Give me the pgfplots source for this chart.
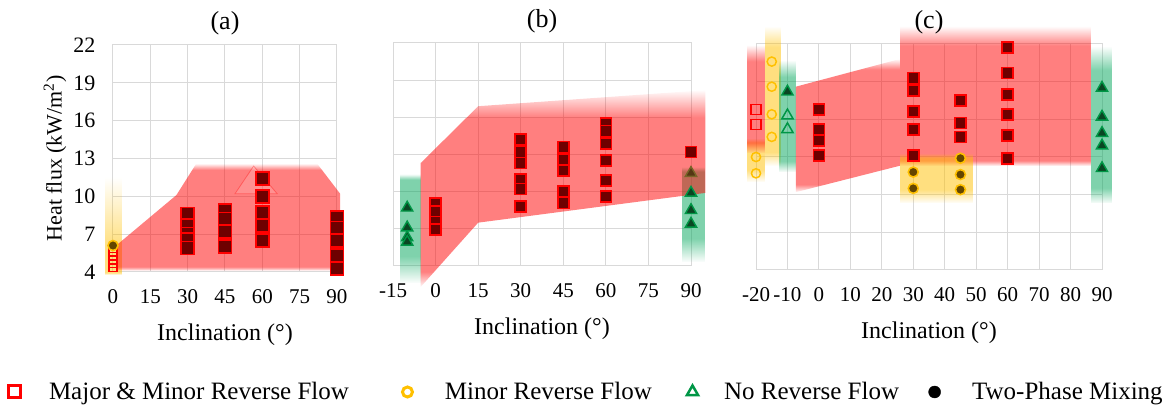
\documentclass[border=0pt]{standalone}
\usepackage{fontspec}
\setmainfont{Liberation Serif}
\usepackage{pgfplots}
\pgfplotsset{compat=1.18}
\usetikzlibrary{fadings}

\definecolor{gridgray}{RGB}{217,217,217}
\definecolor{bandred}{RGB}{255,0,0}
\definecolor{bandorange}{RGB}{255,192,0}
\definecolor{bandgreen}{RGB}{0,166,90}
\definecolor{mkred}{RGB}{255,0,0}
\definecolor{mkredfill}{RGB}{110,0,0}
\definecolor{mkorange}{RGB}{255,192,0}
\definecolor{mkorangefill}{RGB}{100,70,0}
\definecolor{mkgreen}{RGB}{0,150,70}
\definecolor{mkgreenfill}{RGB}{10,70,35}
\definecolor{mkbrown}{RGB}{85,55,20}
\definecolor{mkbrownedge}{RGB}{120,100,40}

% vertical soft-edge fadings; the path's box spans 25bp..75bp of the fading,
% so #2 and #3 are the opaque limits inside that range
\newcommand{\mkfade}[3]{%
  \pgfdeclareverticalshading{sh#1}{100bp}{color(0bp)=(black); color(25bp)=(black); color(#2bp)=(white); color(#3bp)=(white); color(75bp)=(black); color(100bp)=(black)}%
  \pgfdeclarefading{#1}{\pgfuseshading{sh#1}}}
\mkfade{fadeA}{27}{72}
\mkfade{fadeUp}{26}{40}
\mkfade{fadeB}{29}{68}
\mkfade{fadeG}{37.5}{72.5}
\mkfade{fadeCol}{30}{67.5}
\mkfade{fadeLow}{39}{70}
\mkfade{fadeSlant}{28}{71}
\mkfade{fadeRect}{27}{68}

\pgfplotsset{
  panel/.style={
    scale only axis, anchor=south west,
    ymin=4, ymax=22, ytick={4,7,10,13,16,19,22},
    grid=major, grid style={gridgray, line width=1pt},
    axis line style={gridgray, line width=1pt},
    major tick length=0pt,
    clip=false,
    /pgf/number format/assume math mode=true,
    xticklabel style={font=\fontsize{21}{24}\selectfont, yshift=-14pt},
    yticklabel style={font=\fontsize{22}{26}\selectfont, xshift=-14pt},
    xlabel={Inclination (°)},
    xlabel style={font=\fontsize{24}{28}\selectfont, at={(axis description cs:0.5,0)}, anchor=center, yshift=-63pt},
    title style={font=\fontsize{26}{30}\selectfont, at={(axis description cs:0.5,1)}, anchor=center, yshift=16pt},
  },
  band/.style={draw=none, mark=none, fill=#1, fill opacity=0.5},
  sqf/.style={only marks, mark=square*, mark size=5.5pt, mark options={fill=mkredfill, draw=mkred, line width=1.6pt}},
  sqo/.style={only marks, mark=square, mark size=5pt, mark options={draw=mkred, line width=1.5pt}},
  cio/.style={only marks, mark=o, mark size=4.6pt, mark options={draw=mkorange, line width=1.5pt}},
  cif/.style={only marks, mark=*, mark size=5pt, mark options={fill=mkorangefill, draw=mkorange, line width=1.6pt}},
  trf/.style={only marks, mark=triangle*, mark size=6.5pt, mark options={fill=mkgreenfill, draw=mkgreen, line width=1.4pt}},
  tro/.style={only marks, mark=triangle, mark size=6.5pt, mark options={draw=mkgreen, line width=1.5pt}},
}

\begin{document}
\begin{tikzpicture}
\path[use as bounding box] (0,0) rectangle (1168pt,412pt);

% ---------------- (a) ----------------
\begin{axis}[panel, at={(113pt,140pt)}, width=224pt, height=227pt,
  xmin=0, xmax=90, xtick={0,15,...,90},
  title={(a)},
  ylabel={Heat flux (kW/m\textsuperscript{2})},
  ylabel style={font=\fontsize{22}{26}\selectfont, at={(axis description cs:-0.259,0.5)}, anchor=center},
  legend columns=4,
  legend image code/.code={\draw[#1] plot coordinates {(0pt,0pt)};},
  legend style={draw=none, fill=none, inner sep=0pt, outer sep=0pt,
    at={(-0.4665,-0.5286)}, anchor=west,
    font=\fontsize{25}{30}\selectfont,
    nodes={inner sep=0pt, text depth=0.2em}, cells={anchor=west},
    /tikz/column 1/.style={column sep=28.5pt},
    /tikz/column 2/.style={column sep=53.5pt},
    /tikz/column 3/.style={column sep=32.5pt},
    /tikz/column 4/.style={column sep=35pt},
    /tikz/column 5/.style={column sep=26pt},
    /tikz/column 6/.style={column sep=29.5pt},
    /tikz/column 7/.style={column sep=31.5pt}},
]
\addlegendimage{only marks, mark=square, mark size=6pt, mark options={draw=mkred, line width=3pt}}
\addlegendentry{Major \& Minor Reverse Flow}
\addlegendimage{only marks, mark=o, mark size=5pt, mark options={draw=mkorange, line width=3pt}}
\addlegendentry{Minor Reverse Flow}
\addlegendimage{only marks, mark=triangle, mark size=6.5pt, mark options={draw=mkgreen, line width=2.5pt}}
\addlegendentry{No Reverse Flow}
\addlegendimage{only marks, mark=*, mark size=6pt, mark options={fill=black, draw=black}}
\addlegendentry{Two-Phase Mixing}

\addplot[band=bandorange, path fading=fadeUp] coordinates {(-3.2,3.8) (-3.2,11.5) (3.6,11.5) (3.6,3.8)} -- cycle;
\addplot[band=bandred, path fading=fadeA] coordinates {(1.3,4.1) (1.3,6.1) (25.5,10.1) (33.5,12.6) (82,12.6) (91.3,10.2) (91.3,4.1)} -- cycle;
\addplot[mark=none, draw=bandred, draw opacity=0.35, fill=white, fill opacity=0.15, line width=0.8pt] coordinates {(49,10.2) (56.5,12.4) (66,10.2)} -- cycle;

\addplot[sqo, mark size=4pt, mark options={draw=mkred, line width=1.3pt}] coordinates {(0,4.35) (0,4.65) (0,4.95) (0,5.25) (0,5.55)};
\addplot[cif] coordinates {(0,6.1)};
\addplot[sqf, mark size=6.5pt] coordinates {
  (30,8.6) (30,7.7) (30,7.0) (30,6.6) (30,5.9)
  (45,8.9) (45,8.2) (45,7.2) (45,6.0)
  (60,11.4) (60,10.0) (60,8.7) (60,7.7) (60,6.5)
  (90,8.3) (90,7.5) (90,6.5) (90,5.3) (90,4.3)};
\end{axis}

% ---------------- (b) ----------------
\begin{axis}[panel, at={(393pt,146pt)}, width=298pt, height=223pt,
  xmin=-15, xmax=90, xtick={-15,0,...,90}, yticklabels={},
  title={(b)},
]
\addplot[band=bandgreen, path fading=fadeG] coordinates {(-12.6,2.6) (-12.6,11.4) (-5.3,11.4) (-5.3,2.6)} -- cycle;
\addplot[band=bandgreen, path fading=fadeG] coordinates {(87,4.3) (87,12) (95,12) (95,4.3)} -- cycle;
\addplot[band=bandred, path fading=fadeB] coordinates {(-5.3,2.3) (-5.3,12.3) (15,16.9) (95,18.2) (95,9.9) (15,7.5)} -- cycle;

\addplot[trf] coordinates {(-10,8.7) (-10,7.1) (-10,6.3) (-10,5.95) (90,9.9) (90,8.5) (90,7.4)};
\addplot[trf, mark options={fill=mkbrown, draw=mkbrownedge, line width=1.4pt}] coordinates {(90,11.5)};
\addplot[sqf] coordinates {
  (0,9.05) (0,8.4) (0,7.56) (0,6.94)
  (30,14.2) (30,13.2) (30,12.3) (30,11.0) (30,10.2) (30,8.8)
  (45,13.6) (45,12.6) (45,11.7) (45,10.0) (45,9.1)
  (60,15.5) (60,14.9) (60,13.9) (60,12.5) (60,10.9) (60,9.6)
  (90,13.2)};
\end{axis}

% ---------------- (c) ----------------
\begin{axis}[panel, at={(756pt,142pt)}, width=346pt, height=226pt,
  xmin=-20, xmax=90, xtick={-20,-10,...,90}, yticklabels={},
  title={(c)},
]
\addplot[band=bandorange, path fading=fadeLow] coordinates {(-22.9,11.0) (-22.9,14.5) (-17.1,14.5) (-17.1,11.0)} -- cycle;
\addplot[band=bandred, path fading=fadeCol] coordinates {(-22.9,13.3) (-22.9,21.9) (-17.1,21.9) (-17.1,13.3)} -- cycle;
\addplot[band=bandorange, path fading=fadeCol] coordinates {(-17.1,12.3) (-17.1,23.4) (-12.2,23.4) (-12.2,12.3)} -- cycle;
\addplot[band=bandgreen, path fading=fadeCol] coordinates {(-12.7,11.8) (-12.7,20.7) (-7.3,20.7) (-7.3,11.8)} -- cycle;
\addplot[band=bandred, path fading=fadeSlant] coordinates {(-7.3,10.2) (-7.3,18.6) (25.7,20.8) (25.7,12.3)} -- cycle;
\addplot[band=bandred, path fading=fadeRect] coordinates {(25.7,12.3) (25.7,23.4) (86.6,23.4) (86.6,12.3)} -- cycle;
\addplot[band=bandorange, path fading=fadeLow] coordinates {(25.7,9.3) (25.7,13.3) (49,13.3) (49,9.3)} -- cycle;
\addplot[band=bandgreen, path fading=fadeCol] coordinates {(86.6,9.3) (86.6,21.8) (93.3,21.8) (93.3,9.3)} -- cycle;

\addplot[sqo] coordinates {(-20,16.8) (-20,15.6)};
\addplot[cio] coordinates {(-20,13.0) (-20,11.7) (-15,20.6) (-15,18.6) (-15,16.4) (-15,14.6)};
\addplot[trf] coordinates {(-10,18.2) (90,18.5) (90,16.2) (90,14.9) (90,13.9) (90,12.1)};
\addplot[tro] coordinates {(-10,16.3) (-10,15.2)};
\addplot[cif] coordinates {(30,11.8) (30,10.5) (45,12.9) (45,11.6) (45,10.4)};
\addplot[sqf] coordinates {
  (0,16.8) (0,15.2) (0,14.3) (0,13.1)
  (30,19.3) (30,18.3) (30,16.6) (30,15.2) (30,13.1)
  (45,17.5) (45,15.7) (45,14.6)
  (60,21.7) (60,19.7) (60,18.0) (60,16.4) (60,14.7) (60,12.9)};
\end{axis}
\end{tikzpicture}
\end{document}
